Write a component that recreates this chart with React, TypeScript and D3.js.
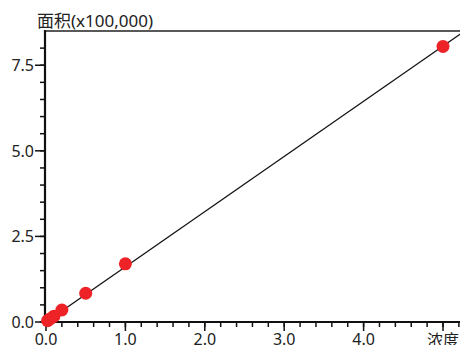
import { useEffect, useRef } from 'react'
import * as d3 from 'd3'

// calibration points
const concentrations = [0.02, 0.05, 0.1, 0.2, 0.5, 1.0, 5.0]
const areas = [0.04, 0.09, 0.17, 0.35, 0.84, 1.70, 8.05]

// fitted line (area in units of 100,000)
const fitSlope = 1.612
const fitIntercept = 0.0
const fitRange = [0, 5.3]

const xMajorTicks = [0, 1, 2, 3, 4]
const xMinorTicks = d3.range(0, 27).map(i => i * 0.2)
const yMajorTicks = [0, 2.5, 5.0, 7.5]
const yMinorTicks = d3.range(0, 17).map(i => i * 0.5)

const yTitle = '面积(x100,000)'
const xTitle = '浓度'

const App = () => {
  const ref = useRef(null)
  const width = 460
  const height = 345

  useEffect(() => {
    if (!ref.current) return
    const svg = d3.select(ref.current)
    svg.selectAll('*').remove()

    const font = '"Noto Sans", "Noto Sans CJK SC", sans-serif'
    const x = d3.scaleLinear().domain([0, 5]).range([46, 443])
    const y = d3.scaleLinear().domain([0, 8.5]).range([322, 31])

    // frame
    svg.append('line')
      .attr('x1', 45).attr('x2', width)
      .attr('y1', y(8.5)).attr('y2', y(8.5))
      .attr('stroke', '#222').attr('stroke-width', 1.6)

    // y ticks
    svg.selectAll('.ymin').data(yMinorTicks).enter().append('line')
      .attr('x1', 40).attr('x2', 45)
      .attr('y1', d => y(d)).attr('y2', d => y(d))
      .attr('stroke', '#111').attr('stroke-width', 1.5)
    svg.selectAll('.ymaj').data(yMajorTicks).enter().append('line')
      .attr('x1', 35).attr('x2', 45)
      .attr('y1', d => y(d)).attr('y2', d => y(d))
      .attr('stroke', '#111').attr('stroke-width', 1.5)
    svg.selectAll('.ylab').data(yMajorTicks).enter().append('text')
      .text(d => d.toFixed(1))
      .attr('x', 34).attr('y', d => y(d))
      .attr('dy', '0.36em')
      .attr('text-anchor', 'end')
      .style('font-family', font).style('font-size', '16px').style('fill', '#222')

    // x ticks
    svg.selectAll('.xmin').data(xMinorTicks).enter().append('line')
      .attr('x1', d => x(d)).attr('x2', d => x(d))
      .attr('y1', 322).attr('y2', 327)
      .attr('stroke', '#111').attr('stroke-width', 1.5)
    svg.selectAll('.xmaj').data([...xMajorTicks, 5]).enter().append('line')
      .attr('x1', d => x(d)).attr('x2', d => x(d))
      .attr('y1', 322).attr('y2', 331)
      .attr('stroke', '#111').attr('stroke-width', 1.5)
    svg.selectAll('.xlab').data(xMajorTicks).enter().append('text')
      .text(d => d.toFixed(1))
      .attr('x', d => x(d)).attr('y', 345)
      .attr('text-anchor', 'middle')
      .style('font-family', font).style('font-size', '16px').style('fill', '#222')

    svg.append('text')
      .text(xTitle)
      .attr('x', 427).attr('y', 346)
      .style('font-family', font).style('font-size', '16px').style('fill', '#222')

    svg.append('text')
      .text(yTitle)
      .attr('x', 37).attr('y', 27)
      .style('font-family', font).style('font-size', '17px').style('fill', '#222')

    // axes
    svg.append('line')
      .attr('x1', 45).attr('x2', 45)
      .attr('y1', y(8.5) - 1).attr('y2', 323)
      .attr('stroke', '#111').attr('stroke-width', 2.2)
    svg.append('line')
      .attr('x1', 44).attr('x2', width)
      .attr('y1', 322).attr('y2', 322)
      .attr('stroke', '#111').attr('stroke-width', 2.2)

    // fit line
    const line = d3.line<number>()
      .x(d => x(d))
      .y(d => y(fitSlope * d + fitIntercept))
    svg.append('path')
      .datum(fitRange)
      .attr('d', line)
      .attr('fill', 'none')
      .attr('stroke', '#111')
      .attr('stroke-width', 1.3)

    // points
    svg.selectAll('.pt').data(concentrations).enter().append('circle')
      .attr('cx', d => x(d))
      .attr('cy', (d, i) => y(areas[i]))
      .attr('r', 6.5)
      .attr('fill', '#ed2328')
  }, [])

  return (
    <svg
      ref={ref}
      width={width}
      height={height}
      style={{ position: 'absolute', left: 0, top: 0, background: '#fff' }}
    />
  )
}

export default App
